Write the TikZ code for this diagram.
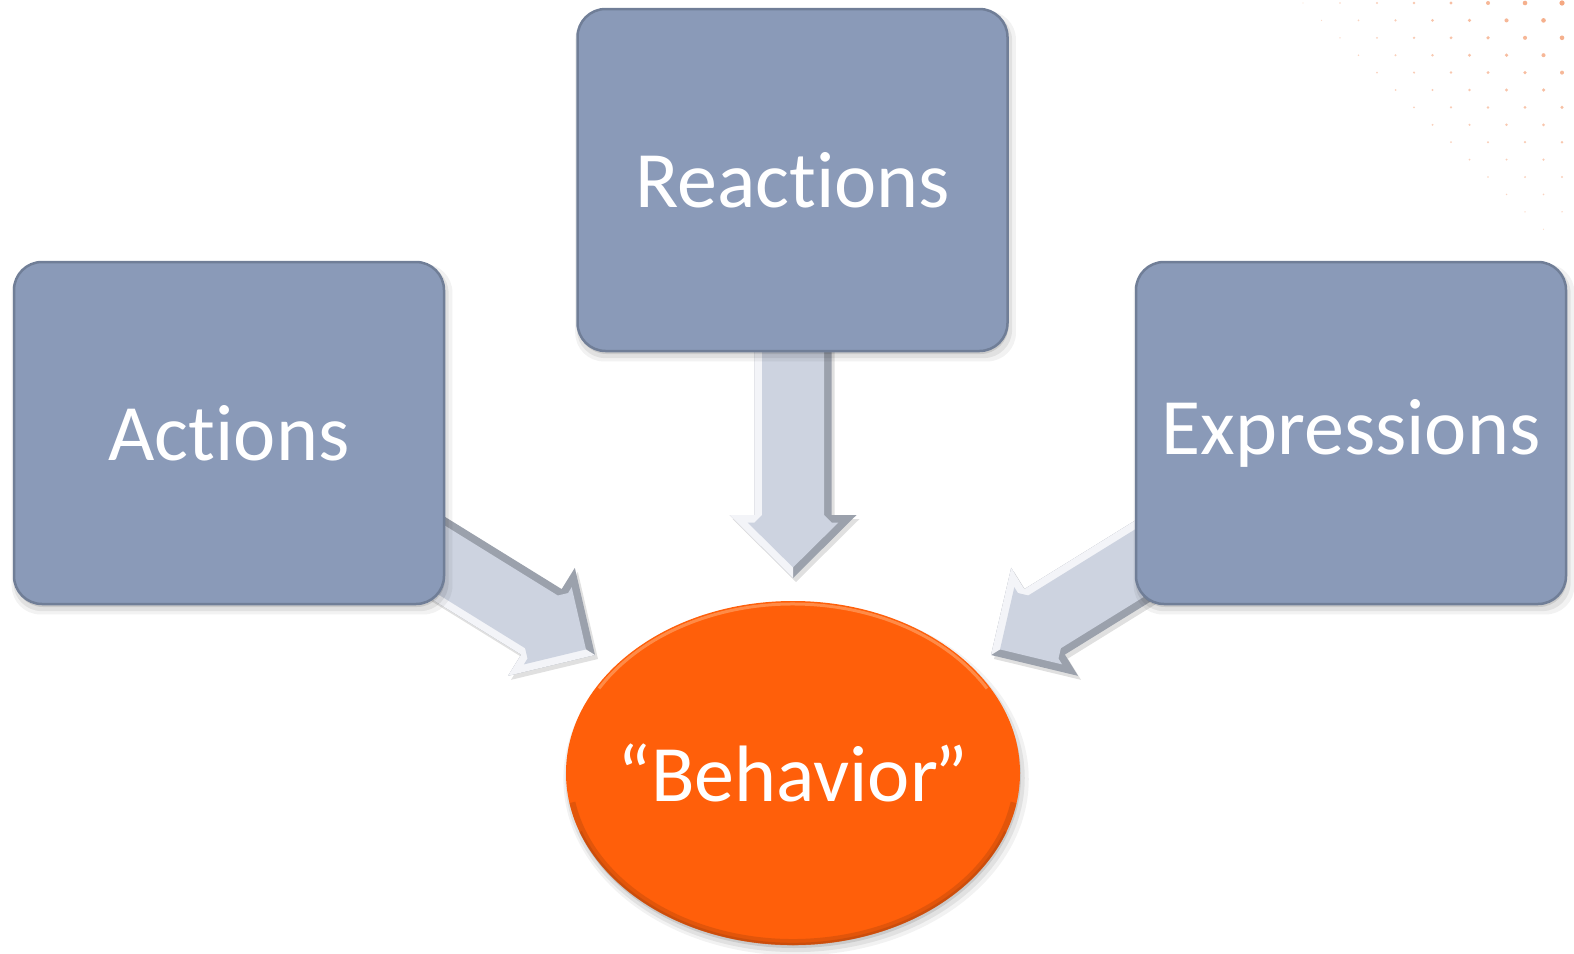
\documentclass[tikz,border=0pt]{standalone}
\usepackage{fontspec}
\setmainfont{Carlito}[Ligatures={NoCommon}]
\usetikzlibrary{shapes.geometric,shadows}

\definecolor{boxfill}{HTML}{8A9AB8}
\definecolor{boxrim}{HTML}{707E97}
\definecolor{arrowface}{HTML}{CDD3E0}
\definecolor{arrowdark}{HTML}{9BA1AC}
\definecolor{arrowlight}{HTML}{F3F4F8}
\definecolor{behfill}{HTML}{FF5F0A}
\definecolor{behdark}{HTML}{B8470C}
\definecolor{behlight}{HTML}{FF9A5C}
\definecolor{dotcol}{HTML}{F4A47C}

\tikzset{
  softshadow/.style={
    general shadow={fill=black,opacity=0.05,shadow xshift=3pt,shadow yshift=-6pt,shadow scale=1.025},
    general shadow={fill=black,opacity=0.07,shadow xshift=2pt,shadow yshift=-5pt,shadow scale=1.012},
    general shadow={fill=black,opacity=0.10,shadow xshift=1pt,shadow yshift=-3pt}},
  bigtext/.style={text=white, font=\fontsize{80}{96}\selectfont},
  topic/.style={rectangle, rounded corners=28pt, minimum width=430pt, minimum height=342pt,
    inner sep=0pt, fill=boxfill, draw=boxrim, line width=2.5pt, bigtext, softshadow},
  result/.style={ellipse, minimum width=454pt, minimum height=344pt, inner sep=0pt,
    fill=behfill, softshadow},
}

% bevelled block arrow from coordinate #1 to coordinate #2
\newcommand\blockarrow[2]{%
  \pgfpointdiff{\pgfpointanchor{#1}{center}}{\pgfpointanchor{#2}{center}}%
  \pgfgetlastxy{\arDx}{\arDy}%
  \pgfmathsetmacro\arL{veclen(\arDx,\arDy)}%
  \pgfmathsetmacro\arA{atan2(\arDy,\arDx)}%
  \def\sw{38.5}\def\hw{63.5}\def\hl{63}\def\bv{7.5}%
  \begin{scope}[shift={([xshift=3pt,yshift=-4pt]#1)}, rotate=\arA]
    \fill[black,opacity=0.12] (0,\sw) -- (\arL-\hl,\sw) -- (\arL-\hl,\hw) -- (\arL,0)
      -- (\arL-\hl,-\hw) -- (\arL-\hl,-\sw) -- (0,-\sw) -- cycle;
  \end{scope}
  \begin{scope}[shift={(#1)}, rotate=\arA]
    \fill[arrowdark] (0,\sw) -- (\arL-\hl,\sw) -- (\arL-\hl,\hw) -- (\arL,0)
      -- (\arL-\hl,-\hw) -- (\arL-\hl,-\sw) -- (0,-\sw) -- cycle;
    \fill[arrowlight] (0,0) -- (\arL,0) -- (\arL-\hl,-\hw) -- (\arL-\hl,-\sw) -- (0,-\sw) -- cycle;
    \fill[arrowface] (0,\sw-\bv) -- (\arL-\hl,\sw-\bv) -- (\arL-\hl+\bv,\sw)
      -- (\arL-\hl+\bv,\hw-2.414*\bv) -- (\arL-1.414*\bv,0)
      -- (\arL-\hl+\bv,-\hw+2.414*\bv) -- (\arL-\hl+\bv,-\sw)
      -- (\arL-\hl,-\sw+\bv) -- (0,-\sw+\bv) -- cycle;
  \end{scope}}

\begin{document}
\begin{tikzpicture}[x=1pt,y=1pt]
\useasboundingbox (0,0) rectangle (1574,-953);

% dotted corner ornament
\foreach \r in {0,...,13} {
  \pgfmathsetmacro\xs{1303+18.5*\r}
  \pgfmathtruncatemacro\maxc{floor((1563-\xs)/37)}
  \foreach \c in {0,...,\maxc} {
    \pgfmathsetmacro\xx{\xs+37*\c}
    \pgfmathsetmacro\fr{((\xx-1300)/260)*(1-\r/14)}
    \pgfmathsetmacro\rad{0.5+2.1*\fr}
    \pgfmathsetmacro\op{0.35+0.6*\fr}
    \fill[dotcol, opacity=\op] (\xx,-3-17.4*\r) circle (\rad);
  }
}

% arrow end points
\coordinate (inM) at (793,-340);
\coordinate (tipM) at (793,-578);
\coordinate (inL) at (399.5,-534);
\coordinate (tipL) at (595,-655);
\coordinate (inR) at (1186.5,-534);
\coordinate (tipR) at (991,-655);

\blockarrow{inM}{tipM}
\blockarrow{inL}{tipL}
\blockarrow{inR}{tipR}

% the three sources
\node[topic] (act) at (229,-433) {Actions};
\node[topic] (rea) at (792.5,-180) {Reactions};
\node[topic] (exp) at (1351,-433) {Expressions};

% the result
\node[result] (beh) at (793,-773) {};
\draw[behdark, line width=6pt, opacity=0.4]
  (beh.center) ++(190:224 and 169) arc[start angle=190, end angle=350, x radius=224, y radius=169];
\draw[behdark, line width=2.5pt, opacity=0.5]
  (beh.center) ++(200:226 and 171) arc[start angle=200, end angle=340, x radius=226, y radius=171];
\draw[behlight, line width=3pt, opacity=0.75]
  (beh.center) ++(30:224 and 169) arc[start angle=30, end angle=150, x radius=224, y radius=169];
\node[bigtext] (behtext) at (beh.center) {“Behavior\kern-3pt”};
\end{tikzpicture}
\end{document}
